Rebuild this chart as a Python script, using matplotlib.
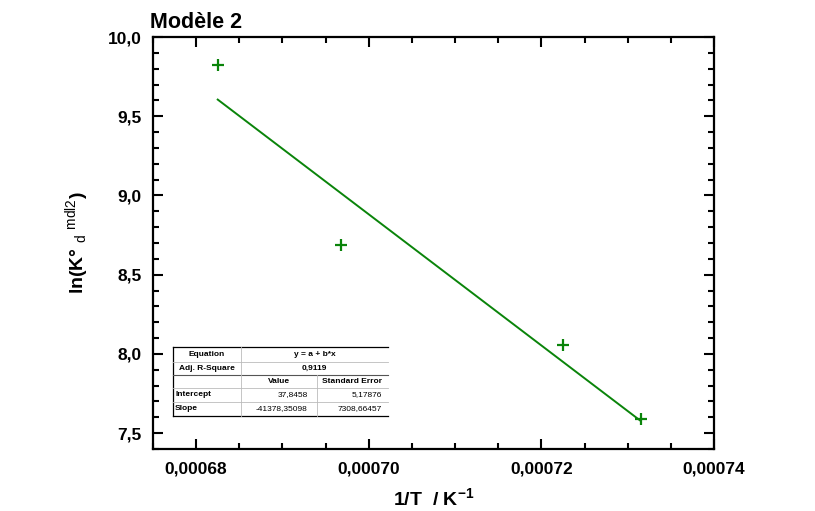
import matplotlib
matplotlib.use("Agg")
import matplotlib.pyplot as plt
import numpy as np
from matplotlib.ticker import MultipleLocator, FuncFormatter
from matplotlib.lines import Line2D

plt.rcParams['font.family'] = ['Liberation Sans', 'DejaVu Sans']
plt.rcParams['mathtext.fontset'] = 'custom'
plt.rcParams['mathtext.rm'] = 'Liberation Sans'
plt.rcParams['mathtext.it'] = 'Liberation Sans:italic'
plt.rcParams['mathtext.bf'] = 'Liberation Sans:bold'

# data
inv_T = [0.0006825, 0.0006968, 0.0007225, 0.0007315]
ln_K = [9.821, 8.689, 8.057, 7.592]
fit_intercept = 37.8458
fit_slope = -41378.35098
x_ticks = [0.00068, 0.00070, 0.00072, 0.00074]
y_ticks = [7.5, 8.0, 8.5, 9.0, 9.5, 10.0]

table_rows = [
    ["Equation", "y = a + b*x", None],
    ["Adj. R-Square", "0,9119", None],
    ["", "Value", "Standard Error"],
    ["Intercept", "37,8458", "5,17876"],
    ["Slope", "-41378,35098", "7308,66457"],
]

W, H = 815, 511
fig = plt.figure(figsize=(W / 100, H / 100), dpi=100)
L, R, T, B = 153, 714, 37, 449
ax = fig.add_axes([L / W, 1 - B / H, (R - L) / W, (B - T) / H])

green = '#0a840a'
ax.plot(inv_T, ln_K, linestyle='none', marker='+', markersize=9,
        markeredgewidth=1.6, color=green, zorder=3)
xf = np.array([inv_T[0], inv_T[-1]])
ax.plot(xf, fit_intercept + fit_slope * xf, color=green, linewidth=1.4, zorder=2)

ax.set_xlim(0.000675, 0.00074)
ax.set_ylim(7.4, 10.0)
ax.set_xticks(x_ticks)
ax.set_yticks(y_ticks)
ax.xaxis.set_minor_locator(MultipleLocator(0.000005))
ax.yaxis.set_minor_locator(MultipleLocator(0.1))
ax.xaxis.set_major_formatter(FuncFormatter(lambda v, p: f"{v:.5f}".replace('.', ',')))
ax.yaxis.set_major_formatter(FuncFormatter(lambda v, p: f"{v:.1f}".replace('.', ',')))
ax.tick_params(which='both', direction='in', top=True, right=True, width=1.5)
ax.tick_params(which='major', length=7)
ax.tick_params(which='minor', length=4)
ax.tick_params(axis='x', which='major', pad=9)
ax.tick_params(axis='y', which='major', pad=8)
for lab in ax.get_xticklabels() + ax.get_yticklabels():
    lab.set_fontsize(12.5)
    lab.set_fontweight('bold')
for s in ax.spines.values():
    s.set_linewidth(1.6)

ax.set_xlabel(r'1/T  / K$^\mathbf{-1}$', fontsize=14, fontweight='bold', labelpad=8)
ax.set_ylabel(r'ln(K° $_\mathrm{d}$ $^\mathrm{mdl2}$)', fontsize=14, fontweight='bold', labelpad=12)
fig.text(150 / W, 1 - 27.5 / H, 'Modèle 2', fontsize=15.5, fontweight='bold',
         ha='left', va='baseline')

# inset table
def fx(px):
    return px / W

def fy(py):
    return 1 - py / H

rows_y = [347, 361.5, 374.5, 387.5, 401.5, 416]
cols_x = [173, 241, 316.7, 388]
fig.add_artist(Line2D([fx(cols_x[0]), fx(cols_x[-1])], [fy(rows_y[0])] * 2, color='black', lw=0.9))
fig.add_artist(Line2D([fx(cols_x[0]), fx(cols_x[-1])], [fy(rows_y[-1])] * 2, color='black', lw=0.9))
fig.add_artist(Line2D([fx(cols_x[0])] * 2, [fy(rows_y[0]), fy(rows_y[-1])], color='black', lw=0.9))
fig.add_artist(Line2D([fx(cols_x[0]), fx(cols_x[-1])], [fy(rows_y[2])] * 2, color='#555555', lw=0.8))
for yy in [rows_y[1], rows_y[3], rows_y[4]]:
    fig.add_artist(Line2D([fx(cols_x[0]), fx(cols_x[-1])], [fy(yy)] * 2, color='#bbbbbb', lw=0.6))
fig.add_artist(Line2D([fx(cols_x[1])] * 2, [fy(rows_y[0]), fy(rows_y[-1])], color='#bbbbbb', lw=0.6))
fig.add_artist(Line2D([fx(cols_x[2])] * 2, [fy(rows_y[2]), fy(rows_y[-1])], color='#bbbbbb', lw=0.6))

fs = 6
for i, row in enumerate(table_rows):
    yc = fy((rows_y[i] + rows_y[i + 1]) / 2)
    label, c1, c2 = row
    if i < 2:
        fig.text(fx((cols_x[0] + cols_x[1]) / 2), yc, label, fontsize=fs, fontweight='bold',
                 ha='center', va='center')
        fig.text(fx((cols_x[1] + cols_x[3]) / 2), yc, c1, fontsize=fs, fontweight='bold',
                 ha='center', va='center')
    elif i == 2:
        fig.text(fx((cols_x[1] + cols_x[2]) / 2), yc, c1, fontsize=fs, fontweight='bold',
                 ha='center', va='center')
        fig.text(fx((cols_x[2] + cols_x[3]) / 2), yc, c2, fontsize=fs, fontweight='bold',
                 ha='center', va='center')
    else:
        fig.text(fx(cols_x[0] + 2), yc, label, fontsize=fs, fontweight='bold',
                 ha='left', va='center')
        fig.text(fx(cols_x[2] - 9), yc, c1, fontsize=fs, ha='right', va='center')
        fig.text(fx(cols_x[3] - 6), yc, c2, fontsize=fs, ha='right', va='center')

fig.savefig('out.png', dpi=100)
